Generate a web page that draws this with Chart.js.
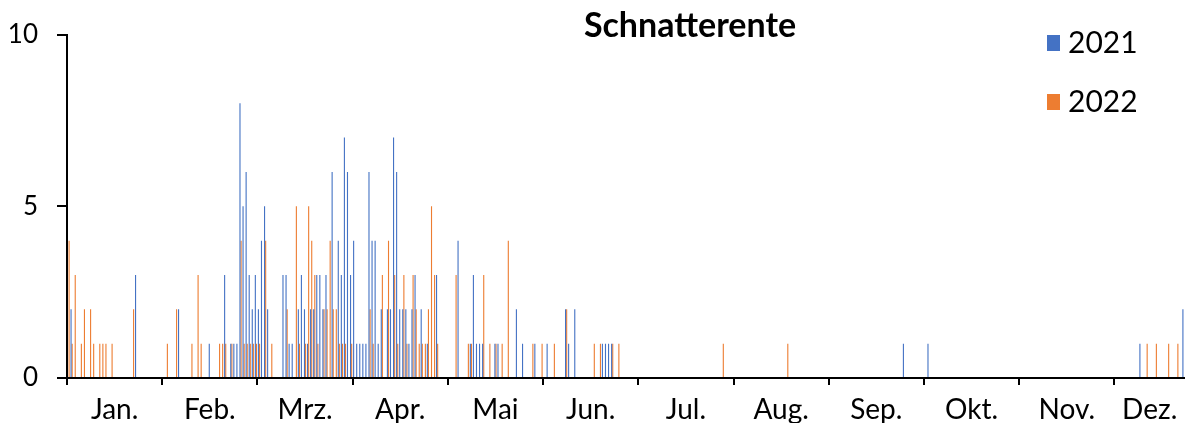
<!DOCTYPE html>
<html>
<head>
<meta charset="utf-8">
<script src="https://cdn.jsdelivr.net/npm/chart.js@4.4.1/dist/chart.umd.min.js"></script>
<style>
  html, body { margin: 0; padding: 0; background: #fff; }
</style>
</head>
<body>
<canvas id="duckChart" width="1185" height="423"></canvas>
<script>
// month labels, one per 31-day block on the axis
const months = ['Jan.', 'Feb.', 'Mrz.', 'Apr.', 'Mai', 'Jun.', 'Jul.', 'Aug.', 'Sep.', 'Okt.', 'Nov.', 'Dez.'];
const yTicks = [0, 5, 10];

// daily counts (only days with sightings), day index counted from 1 Jan
const days2021 = [1, 22, 36, 46, 51, 53, 54, 55, 56, 57, 58, 59, 60, 61, 62, 63, 64, 65, 70, 71, 72, 73, 75, 76, 77, 78, 79, 80, 81, 82, 83, 84, 86, 88, 89, 90, 91, 92, 93, 94, 95, 96, 97, 98, 99, 100, 101, 102, 104, 105, 106, 107, 108, 109, 110, 111, 112, 113, 115, 117, 120, 127, 131, 132, 133, 134, 135, 139, 140, 146, 148, 152, 156, 162, 163, 165, 174, 175, 176, 177, 272, 280, 349, 363];
const counts2021 = [2, 3, 2, 1, 3, 1, 1, 1, 8, 5, 6, 3, 2, 3, 2, 4, 5, 2, 3, 3, 1, 1, 2, 3, 2, 1, 2, 2, 3, 3, 2, 3, 6, 4, 3, 7, 6, 3, 4, 1, 1, 1, 1, 6, 4, 4, 1, 2, 2, 2, 7, 6, 2, 2, 2, 1, 2, 3, 2, 1, 3, 4, 1, 3, 1, 1, 1, 1, 1, 2, 1, 1, 1, 2, 1, 2, 1, 1, 1, 1, 1, 1, 1, 2];

const days2022 = [0, 1, 2, 4, 5, 7, 8, 10, 11, 12, 14, 21, 32, 35, 40, 42, 43, 49, 50, 51, 53, 56, 57, 58, 59, 60, 61, 62, 64, 66, 71, 74, 75, 77, 78, 79, 80, 81, 83, 84, 85, 86, 87, 88, 89, 90, 92, 98, 99, 102, 104, 106, 107, 109, 110, 112, 113, 114, 115, 116, 117, 118, 119, 120, 126, 130, 131, 135, 137, 139, 141, 143, 151, 154, 158, 162, 171, 173, 177, 179, 213, 234, 351, 354, 358, 361];
const counts2022 = [4, 1, 3, 1, 2, 2, 1, 1, 1, 1, 1, 2, 1, 2, 1, 3, 1, 1, 1, 1, 1, 4, 1, 1, 1, 1, 1, 1, 4, 1, 2, 5, 1, 1, 5, 4, 3, 1, 2, 2, 4, 2, 2, 1, 1, 1, 1, 2, 1, 3, 4, 3, 1, 3, 1, 3, 2, 1, 1, 1, 2, 5, 3, 1, 3, 1, 1, 3, 1, 1, 1, 4, 1, 1, 1, 2, 1, 1, 1, 1, 1, 1, 1, 1, 1, 1];

const slotCount = 364;      // visible day slots (31 per month)
const monthSlots = 31;
const labelSlot = [15, 46, 77, 108, 139, 170, 201, 232, 263, 294, 325, 352];

function dailySeries(days, counts) {
    const out = new Array(slotCount).fill(null);
    days.forEach((d, i) => { out[d] = counts[i]; });
    return out;
}

const font = 'Lato';

// title + legend drawn on top of the plot, like the original
const overlay = {
    id: 'overlay',
    afterDraw(chart) {
        const ctx = chart.ctx;
        ctx.save();
        ctx.fillStyle = '#000';
        ctx.font = 'bold 34px ' + font;
        ctx.textAlign = 'center';
        ctx.textBaseline = 'middle';
        ctx.fillText('Schnatterente', 690, 26);

        chart.data.datasets.forEach((ds, i) => {
            const y = 43 + i * 59;
            ctx.fillStyle = ds.backgroundColor;
            ctx.fillRect(1047, y - 8, 13, 16);
            ctx.fillStyle = '#000';
            ctx.font = '30px ' + font;
            ctx.textAlign = 'left';
            ctx.fillText(ds.label, 1068, y);
        });
        ctx.restore();
    }
};

const ctx = document.getElementById('duckChart').getContext('2d');

const duckChart = new Chart(ctx, {
    type: 'bar',
    data: {
        labels: Array.from({ length: slotCount }, (_, i) => i),
        datasets: [{
            label: '2021',
            data: dailySeries(days2021, counts2021),
            backgroundColor: '#4472C4'
        }, {
            label: '2022',
            data: dailySeries(days2022, counts2022),
            backgroundColor: '#ED7D31'
        }]
    },
    options: {
        responsive: false,
        animation: false,
        categoryPercentage: 0.72,
        barPercentage: 1,
        layout: { padding: { left: 10, top: 33, right: 0, bottom: 0 } },
        plugins: {
            legend: { display: false },
            title: { display: false },
            tooltip: { enabled: false }
        },
        scales: {
            x: {
                grid: {
                    drawOnChartArea: false,
                    tickLength: 7,
                    lineWidth: 2,
                    color: (c) => (c.index % monthSlots === 0 ? '#000' : 'rgba(0,0,0,0)')
                },
                border: { display: true, color: '#000', width: 2 },
                ticks: {
                    autoSkip: false,
                    maxRotation: 0,
                    padding: 0,
                    color: '#000',
                    // tall line box pushes the labels down instead of tick padding
                    font: { family: font, size: 28, lineHeight: '50px' },
                    callback: (value) => {
                        const m = labelSlot.indexOf(value);
                        return m >= 0 ? months[m] : '';
                    }
                },
                afterFit: (scale) => { scale.height = 45; }
            },
            y: {
                min: 0,
                max: 10,
                afterBuildTicks: (scale) => { scale.ticks = yTicks.map(v => ({ value: v })); },
                grid: {
                    drawOnChartArea: false,
                    tickLength: 10,
                    lineWidth: 2,
                    color: '#000'
                },
                border: { display: true, color: '#000', width: 2 },
                ticks: {
                    padding: 19,
                    color: '#000',
                    font: { family: font, size: 26 }
                },
                afterFit: (scale) => { scale.width = 57; }
            }
        }
    },
    plugins: [overlay]
});
</script>
</body>
</html>
